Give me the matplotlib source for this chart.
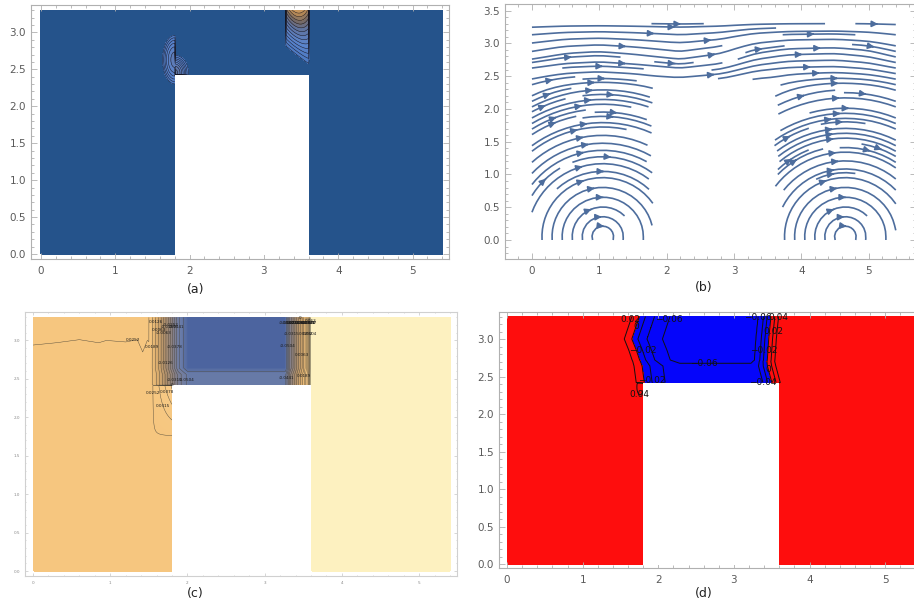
import numpy as np
import matplotlib
matplotlib.use("Agg")
import matplotlib.pyplot as plt
from matplotlib.colors import LinearSegmentedColormap
from matplotlib.patches import Rectangle

# ---------------- channel geometry ----------------
domain_width = 5.4
domain_height = 3.3
gap_x0, gap_x1 = 1.8, 3.6
gap_top = 2.42

# ---------------- (a) localized plumes ----------------
plume_x = [3.3, 3.6]
plume_base_y = [2.79, 2.55]
plume_peak_x = 3.46
lobe_left_center = (1.8, 2.63)
lobe_left_radii = (0.17, 0.34)
lobe_left_level = 0.42
lobe_right_center = (1.8, 2.45)
lobe_right_radii = (0.2, 0.26)
lobe_right_level = 0.55
a_line_levels = np.arange(0.03, 1.0, 0.07)

# ---------------- (b) velocity field ----------------
vortex_x = [1.05, 4.65]
vortex_y = 0.05
wave_x = [0.0, 0.5, 1.0, 1.5, 2.2, 2.8, 3.3, 3.8, 4.5, 5.0, 5.4]
wave_y = [-0.12, -0.03, 0.0, -0.04, -0.12, -0.03, 0.15, 0.23, 0.25, 0.2, 0.1]
wave_amp_y = [2.3, 2.5, 2.85, 3.35]
wave_amp = [0.3, 0.6, 1.0, 0.0]

# ---------------- (c) contour field ----------------
c_edge_left = 0.0252
c_edge_right = 0.072
c_core_y = [2.4, 2.56, 2.64, 3.3]
c_core_val = [-0.052, -0.052, -0.062, -0.062]
c_ramp_left_x = [1.5, 1.62, 1.75, 1.88, 2.0]
c_ramp_left_t = [0.0, 0.2, 0.5, 0.85, 1.0]
c_ramp_right_x = [3.27, 3.33, 3.42, 3.5, 3.565, 3.6]
c_ramp_right_t = [1.0, 0.8, 0.62, 0.46, 0.28, 0.0]
c_line_x = [0.0, 0.3, 0.6, 0.85, 0.95, 1.2, 1.35, 1.42, 1.48, 1.55]
c_line_y = [2.94, 2.97, 3.01, 2.97, 3.0, 2.98, 3.01, 2.85, 3.0, 2.95]
c_levels = np.round(np.arange(-10, 11) * 0.0063, 4)

# ---------------- (d) contour field ----------------
d_edge_left = 0.038
d_edge_right = 0.05
d_core_y = [2.4, 2.64, 2.72, 3.3]
d_core_val = [-0.055, -0.055, -0.066, -0.066]
d_ramp_left_x = [1.5, 1.58, 1.68, 1.76, 1.88, 2.08, 2.2]
d_ramp_left_t = [0.0, 0.173, 0.365, 0.558, 0.75, 0.94, 1.0]
d_left_shift_y = [2.2, 2.4, 2.55, 2.7, 2.85, 3.0, 3.15, 3.3]
d_left_shift = [0.3, 0.12, 0.1, 0.08, 0.03, -0.03, 0.02, 0.07]
d_ramp_right_x = [3.25, 3.3, 3.37, 3.42, 3.47, 3.52, 3.57, 3.6]
d_ramp_right_t = [1.0, 0.95, 0.78, 0.6, 0.43, 0.26, 0.086, 0.0]
d_right_shift_y = [2.4, 2.7, 3.0, 3.3]
d_right_shift = [0.05, -0.03, -0.01, 0.02]
d_bump_center = (1.76, 2.36)
d_bump_radii = (0.05, 0.12)
d_bump_level = 0.008
d_levels = [-0.06, -0.04, -0.02, 0.0, 0.02, 0.04]
d_label_spots = [(1.56, 3.28), (1.66, 3.18), (2.08, 3.28), (1.78, 2.85), (1.95, 2.45),
                 (1.76, 2.28), (2.6, 2.69), (3.32, 3.28), (3.6, 3.28), (3.5, 3.1),
                 (3.42, 2.85), (3.47, 2.6), (3.4, 2.43)]

W, H = 914, 602
fig = plt.figure(figsize=(W / 100, H / 100), dpi=100)


def axes_px(left, top, right, bottom):
    return fig.add_axes([left / W, 1 - bottom / H, (right - left) / W, (bottom - top) / H])


def frame(ax, fs, frame_color, label_color, xlim, ylim, xminor=0.2, yminor=0.1):
    ax.set_xticks(np.arange(0, 6))
    ax.set_yticks(np.arange(0, 3.51, 0.5))
    ax.set_xticks(np.arange(-0.4, 5.8, xminor), minor=True)
    ax.set_yticks(np.arange(-0.3, 3.7, yminor), minor=True)
    ax.set_yticklabels([f"{v:.1f}" for v in np.arange(0, 3.51, 0.5)])
    ax.tick_params(which="both", direction="in", top=True, right=True,
                   color=frame_color, labelcolor=label_color, labelsize=fs, width=0.6)
    ax.tick_params(which="major", length=4)
    ax.tick_params(which="minor", length=2)
    for sp in ax.spines.values():
        sp.set_color(frame_color)
        sp.set_linewidth(0.8)
    ax.set_xlim(*xlim)
    ax.set_ylim(*ylim)


def grid(nx=541, ny=331):
    gx = np.linspace(0, domain_width, nx)
    gy = np.linspace(0, domain_height, ny)
    X, Y = np.meshgrid(gx, gy)
    hole = (X > gap_x0) & (X < gap_x1) & (Y < gap_top)
    return gx, gy, X, Y, hole


def hole_patch(ax):
    ax.add_patch(Rectangle((gap_x0, -0.01), gap_x1 - gap_x0, gap_top + 0.01,
                           facecolor="white", edgecolor="none", zorder=3))


def flat_labels(texts):
    for t in texts:
        t.set_rotation(0)


# ================= (a) =================
ax = axes_px(31, 5, 449, 259)
gx, gy, X, Y, hole = grid()
base = np.interp(X, plume_x, plume_base_y)
s = np.clip((Y - base) / (domain_height + 0.05 - base), 0, 1)
u = (X - plume_peak_x) / 0.15
inside = (X >= plume_x[0]) & (X <= plume_x[1])
fa = np.where(inside, s * (1 - 0.2 * u ** 2), 0.0)
r2 = ((X - lobe_left_center[0]) / lobe_left_radii[0]) ** 2 + ((Y - lobe_left_center[1]) / lobe_left_radii[1]) ** 2
fa += np.where(X <= gap_x0, np.clip(1 - r2, 0, 1) * lobe_left_level, 0)
r2 = ((X - lobe_right_center[0]) / lobe_right_radii[0]) ** 2 + ((Y - lobe_right_center[1]) / lobe_right_radii[1]) ** 2
fa += np.where((X > gap_x0) & (Y > gap_top), np.clip(1 - r2, 0, 1) ** 1.5 * lobe_right_level, 0)
fa = np.ma.masked_where(hole, fa)

a_cmap = LinearSegmentedColormap.from_list(
    "a", [(0, "#4a78c2"), (0.3, "#5b84cc"), (0.55, "#5f73a0"), (0.7, "#766a66"),
          (0.85, "#b88a55"), (1.0, "#e0a865")])
a_fill_levels = np.concatenate([[-1], a_line_levels, [1.5]])
mids = 0.5 * (a_fill_levels[1:-1] + a_fill_levels[2:])
a_colors = ["#25538b"] + [a_cmap(min(m, 1.0)) for m in mids]
ax.contourf(X, Y, fa, levels=a_fill_levels, colors=a_colors)
ax.contour(X, Y, fa, levels=a_line_levels, colors="#141420", linewidths=0.35,
           linestyles="solid")
hole_patch(ax)
frame(ax, 7.5, "#b0b0b0", "#5a5a5a", (-0.134, 5.49), (-0.067, 3.37))
ax.tick_params(axis="x", pad=5)

# ================= (b) =================
ax = axes_px(505, 4, 916, 259)
bx = np.linspace(0, domain_width, 109)
by = np.linspace(0, domain_height, 67)
BX, BY = np.meshgrid(bx, by)
bhole = (BX > gap_x0) & (BX < gap_x1) & (BY < gap_top)
xc = np.where(BX < 0.5 * (gap_x0 + gap_x1), vortex_x[0], vortex_x[1])
uv = BY - vortex_y
vv = -(BX - xc)
sp = np.hypot(uv, vv) + 1e-6
uv, vv = uv / sp, vv / sp
slope = np.gradient(np.interp(bx, wave_x, wave_y), bx)
amp = np.interp(BY, wave_amp_y, wave_amp)
uc = np.ones_like(BX)
vc = amp * slope[None, :]
wgt = np.clip((BY - 2.25) / 0.35, 0, 1)
wgt = np.where((BX > gap_x0) & (BX < gap_x1), 1.0, wgt)
U = (1 - wgt) * uv + wgt * uc
V = (1 - wgt) * vv + wgt * vc
sp = np.hypot(U, V) + 1e-6
U = np.ma.masked_where(bhole, U / sp)
V = np.ma.masked_where(bhole, V / sp)
kw = dict(density=(1.25, 1.35), color="#4d6d9d", linewidth=1.2, arrowsize=0.9,
          arrowstyle="-|>", broken_streamlines=True)
try:
    ax.streamplot(bx, by, U, V, num_arrows=2, **kw)
except TypeError:
    ax.streamplot(bx, by, U, V, **kw)
frame(ax, 7.5, "#b0b0b0", "#5a5a5a", (-0.4, 5.70), (-0.29, 3.60))
ax.tick_params(axis="x", pad=5)

# ================= (c) =================
ax = axes_px(25, 312, 457, 576)
gx, gy, X, Y, hole = grid()
core = np.interp(Y, c_core_y, c_core_val)
tl = np.interp(X, c_ramp_left_x, c_ramp_left_t)
tr = np.interp(X, c_ramp_right_x, c_ramp_right_t)
edge_l = c_edge_left + 0.0003 * (Y - np.interp(X, c_line_x, c_line_y))
col_bump = 0.02 * np.clip((X - 1.55) / 0.25, 0, 1) * np.clip((Y - 1.75) / 0.65, 0, 1)
left_col = edge_l + np.where(Y < gap_top, col_bump, 0)
fc = np.where(X < 2.7, left_col * (1 - tl) + core * tl, c_edge_right * (1 - tr) + core * tr)
fc = np.where((Y < gap_top) & (X <= gap_x0), left_col, fc)
fc = np.where((Y < gap_top) & (X >= gap_x1), c_edge_right, fc)
fc = np.ma.masked_where(hole, fc)
c_cmap = LinearSegmentedColormap.from_list(
    "c", [(0.0, "#3c5697"), (0.07, "#4e66a0"), (0.14, "#6a7ca8"), (0.28, "#857f88"),
          (0.45, "#b08f6a"), (0.58, "#dcae6e"), (0.67, "#f6c67f"), (0.88, "#f7cc8a"),
          (0.95, "#fbe5ae"), (1.0, "#fdf1c0")])
ax.contourf(X, Y, fc, levels=np.linspace(-0.072, 0.072, 145), cmap=c_cmap, extend="both")
cs = ax.contour(X, Y, fc, levels=c_levels, colors="#4a4438", linewidths=0.3,
                linestyles="solid")
flat_labels(ax.clabel(cs, fontsize=3.0, fmt=lambda v: f"{v:g}", colors="#1a1a1a", inline=False))
hole_patch(ax)
frame(ax, 3.0, "#d0d0d0", "#888888", (-0.104, 5.49), (-0.065, 3.37))
ax.tick_params(which="major", length=2)
ax.tick_params(which="minor", length=1)

# ================= (d) =================
ax = axes_px(499, 312, 920, 568)
gx, gy, X, Y, hole = grid()
core = np.interp(Y, d_core_y, d_core_val)
tl = np.interp(X - np.interp(Y, d_left_shift_y, d_left_shift), d_ramp_left_x, d_ramp_left_t)
tr = np.interp(X - np.interp(Y, d_right_shift_y, d_right_shift), d_ramp_right_x, d_ramp_right_t)
fd = np.where(X < 2.7, d_edge_left * (1 - tl) + core * tl, d_edge_right * (1 - tr) + core * tr)
fd = np.where((Y < 2.2) | ((Y < gap_top) & (X <= gap_x0)), d_edge_left, fd)
fd = np.where((Y < gap_top) & (X >= gap_x1), d_edge_right, fd)
r2 = ((X - d_bump_center[0]) / d_bump_radii[0]) ** 2 + ((Y - d_bump_center[1]) / d_bump_radii[1]) ** 2
fd = fd + np.where(X <= gap_x0, d_bump_level * np.clip(1 - r2, 0, 1), 0)
fd = np.ma.masked_where(hole, fd)
ax.contourf(X, Y, fd, levels=[-1, 0.0, 1], colors=["#0505fa", "#fe0d0d"])
cs = ax.contour(X, Y, fd, levels=d_levels, colors="#111111", linewidths=0.7,
                linestyles="solid")
flat_labels(ax.clabel(cs, fontsize=6.5, fmt=lambda v: f"{v:g}".replace("-", "\u2212"),
                      colors="#111", inline=False, manual=d_label_spots))
hole_patch(ax)
frame(ax, 7.5, "#b0b0b0", "#5a5a5a", (-0.106, 5.46), (-0.053, 3.36))
ax.tick_params(axis="x", pad=5)

# ---------------- captions ----------------
for label, x, y in [("(a)", 196, 289), ("(b)", 704, 288), ("(c)", 195, 593), ("(d)", 704, 593)]:
    fig.text(x / W, 1 - y / H, label, ha="center", va="center", fontsize=9, color="#222222")

fig.savefig("out.png", dpi=100)
